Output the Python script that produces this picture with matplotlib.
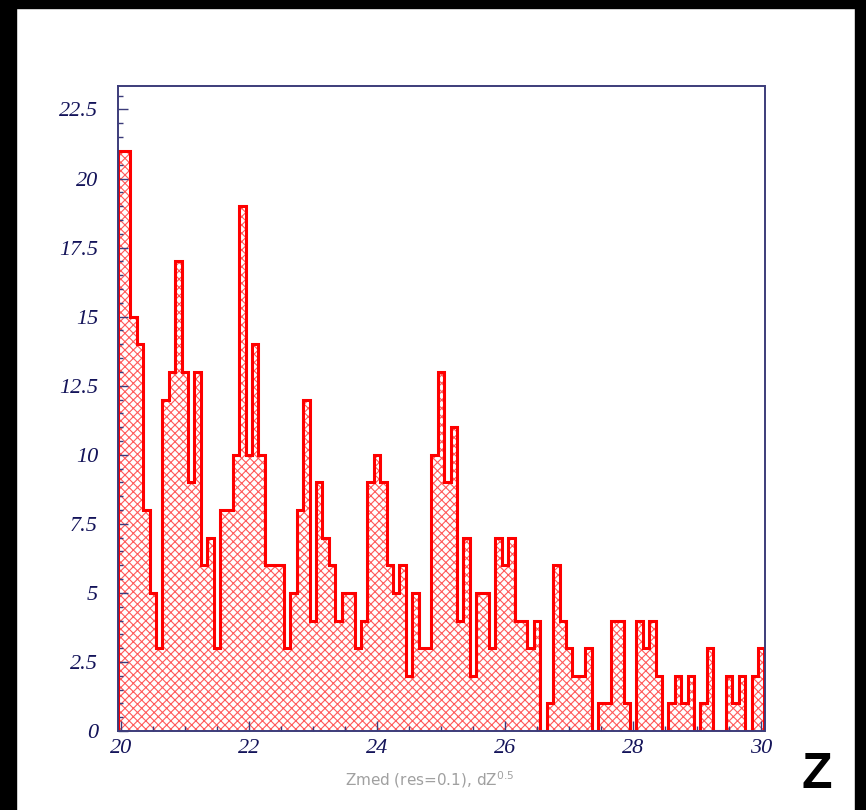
import numpy as np
import matplotlib
matplotlib.use("Agg")
import matplotlib.pyplot as plt
from matplotlib.patches import Rectangle
from matplotlib.ticker import MultipleLocator

# ---- data: histogram of Zmed, bin centres 20.0 ... 30.0, resolution 0.1 ----
z_first = 20.0
z_res = 0.1
counts = [21, 21, 15, 14, 8, 5, 3, 12, 13, 17,
          13, 9, 13, 6, 7, 3, 8, 8, 10, 19,
          10, 14, 10, 6, 6, 6, 3, 5, 8, 12,
          4, 9, 7, 6, 4, 5, 5, 3, 4, 9,
          10, 9, 6, 5, 6, 2, 5, 3, 3, 10,
          13, 9, 11, 4, 7, 2, 5, 5, 3, 7,
          6, 7, 4, 4, 3, 4, 0, 1, 6, 4,
          3, 2, 2, 3, 0, 1, 1, 4, 4, 1,
          0, 4, 3, 4, 2, 0, 1, 2, 1, 2,
          0, 1, 3, 0, 0, 2, 1, 2, 0, 2,
          3]
x_ticklabels = ["20", "22", "24", "26", "28", "30"]
y_ticklabels = ["0", "2.5", "5", "7.5", "10", "12.5", "15", "17.5", "20", "22.5"]
x_title = "Zmed (res=0.1), dZ$^{0.5}$"
corner_label = "Z"

counts = np.array(counts, dtype=float)
n = len(counts)
centers = z_first + z_res * np.arange(n)
edges = z_first - z_res / 2 + z_res * np.arange(n + 1)

W, H = 866, 810
fig = plt.figure(figsize=(W / 100, H / 100), dpi=100)
fig.patch.set_facecolor("white")

# black canvas borders
fig.patches.append(Rectangle((0, 1 - 8 / H), 1, 8 / H, transform=fig.transFigure,
                             color="black", zorder=0))
fig.patches.append(Rectangle((0, 0), 16 / W, 1, transform=fig.transFigure,
                             color="black", zorder=0))
fig.patches.append(Rectangle((1 - 11 / W, 0), 11 / W, 1, transform=fig.transFigure,
                             color="black", zorder=0))

left, right, bottom, top = 117.5, 764.5, 731, 86
ax = fig.add_axes([left / W, (H - bottom) / H, (right - left) / W, (bottom - top) / H])

plt.rcParams["hatch.linewidth"] = 0.8
ax.bar(centers, counts, width=z_res, facecolor="none", edgecolor="#ff5a5a",
       linewidth=0, hatch="xxxx", zorder=1)
ax.stairs(counts, edges, baseline=0, color="#ff0000", linewidth=2.2, zorder=2)

ax.set_xlim(edges[0], edges[-1])
ax.set_ylim(0, 23.35)

axis_col = "#3c3c7a"
lab_col = "#14145a"
for s in ax.spines.values():
    s.set_color(axis_col)
    s.set_linewidth(1.4)

ax.set_xticks([float(t) for t in x_ticklabels])
ax.set_xticklabels(x_ticklabels)
ax.set_yticks([float(t) for t in y_ticklabels])
ax.set_yticklabels(y_ticklabels)
ax.xaxis.set_minor_locator(MultipleLocator(0.5))
ax.yaxis.set_minor_locator(MultipleLocator(0.5))
ax.tick_params(axis="both", which="both", direction="in", colors=axis_col,
               top=False, right=False)
ax.tick_params(axis="both", which="major", length=7.5, width=1.0)
ax.tick_params(axis="both", which="minor", length=3.5, width=1.0)
ax.tick_params(axis="y", which="major", pad=14)
ax.tick_params(axis="x", which="major", pad=6)
for lab in ax.get_xticklabels() + ax.get_yticklabels():
    lab.set_fontfamily("Liberation Serif")
    lab.set_fontstyle("italic")
    lab.set_fontsize(16)
    lab.set_color(lab_col)

fig.text(430 / W, 1 - 780 / H, x_title, ha="center", va="center",
         fontsize=11, color="#a0a0a0", family="DejaVu Sans")
fig.text(817 / W, 1 - 775 / H, corner_label, ha="center", va="center",
         fontsize=36, fontweight="bold", color="black", family="Liberation Sans")

fig.savefig("out.png", dpi=100, facecolor="white")
